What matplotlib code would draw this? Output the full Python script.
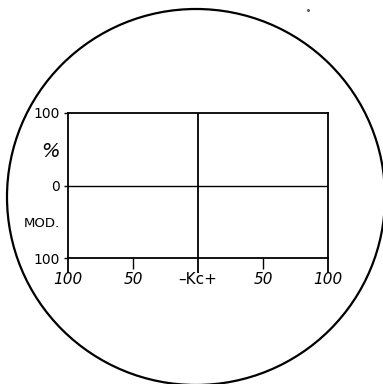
import matplotlib
matplotlib.use('Agg')
import matplotlib.pyplot as plt
from matplotlib.patches import Ellipse

# Kc deviation scale (left is -, right is +) and modulation percent scale
kc_ticks = [-100, -50, 0, 50, 100]
kc_labels = ['100', '50', '\u2013Kc+', '50', '100']
mod_ticks = [100, 50, 0, -50, -100]
mod_labels = ['100', '%', '0', 'MOD.', '100']

W, H = 383, 384
fig = plt.figure(figsize=(W / 100, H / 100), dpi=100)

# background layer in pixel units for the round screen outline
bg = fig.add_axes([0, 0, 1, 1])
bg.set_xlim(0, W)
bg.set_ylim(H, 0)
bg.axis('off')
bg.add_patch(Ellipse((196, 197), 378, 376, fill=False, lw=1.6, color='black'))
bg.plot([308], [10], marker='o', ms=1.2, mfc='white', mec='black', mew=0.6)

# the graticule box
x0, x1, y0, y1 = 68, 328, 113, 258
ax = fig.add_axes([x0 / W, 1 - y1 / H, (x1 - x0) / W, (y1 - y0) / H])
ax.set_xlim(-100, 100)
ax.set_ylim(-100, 100)
ax.patch.set_alpha(0)
for s in ax.spines.values():
    s.set_linewidth(1.3)
ax.axhline(0, color='black', lw=1.0)
ax.axvline(0, color='black', lw=1.3)

ax.set_xticks(kc_ticks)
ax.set_xticklabels(kc_labels, fontstyle='italic', fontsize=11)
ax.tick_params(axis='x', direction='out', length=11, width=1.3, pad=-1)
for t, tick in zip(kc_ticks, ax.xaxis.get_major_ticks()):
    if abs(t) == 50:
        tick.tick1line.set_markersize(8)
        tick.tick1line.set_markeredgewidth(1.0)
for lbl in ax.get_xticklabels():
    if 'Kc' in lbl.get_text():
        lbl.set_fontstyle('normal')

ax.set_yticks(mod_ticks)
ax.set_yticklabels(mod_labels, fontsize=10)
ax.tick_params(axis='y', direction='out', length=3, width=1.0, pad=3)
for lbl in ax.get_yticklabels():
    t = lbl.get_text()
    if t == '%':
        lbl.set_fontsize(14)
        lbl.set_fontstyle('italic')
    elif t == 'MOD.':
        lbl.set_fontsize(9.5)
# only the 100 / 0 / 100 marks carry ticks
for t, tick in zip(mod_ticks, ax.yaxis.get_major_ticks()):
    if abs(t) == 50:
        tick.tick1line.set_visible(False)

fig.savefig('out.png', dpi=100)
